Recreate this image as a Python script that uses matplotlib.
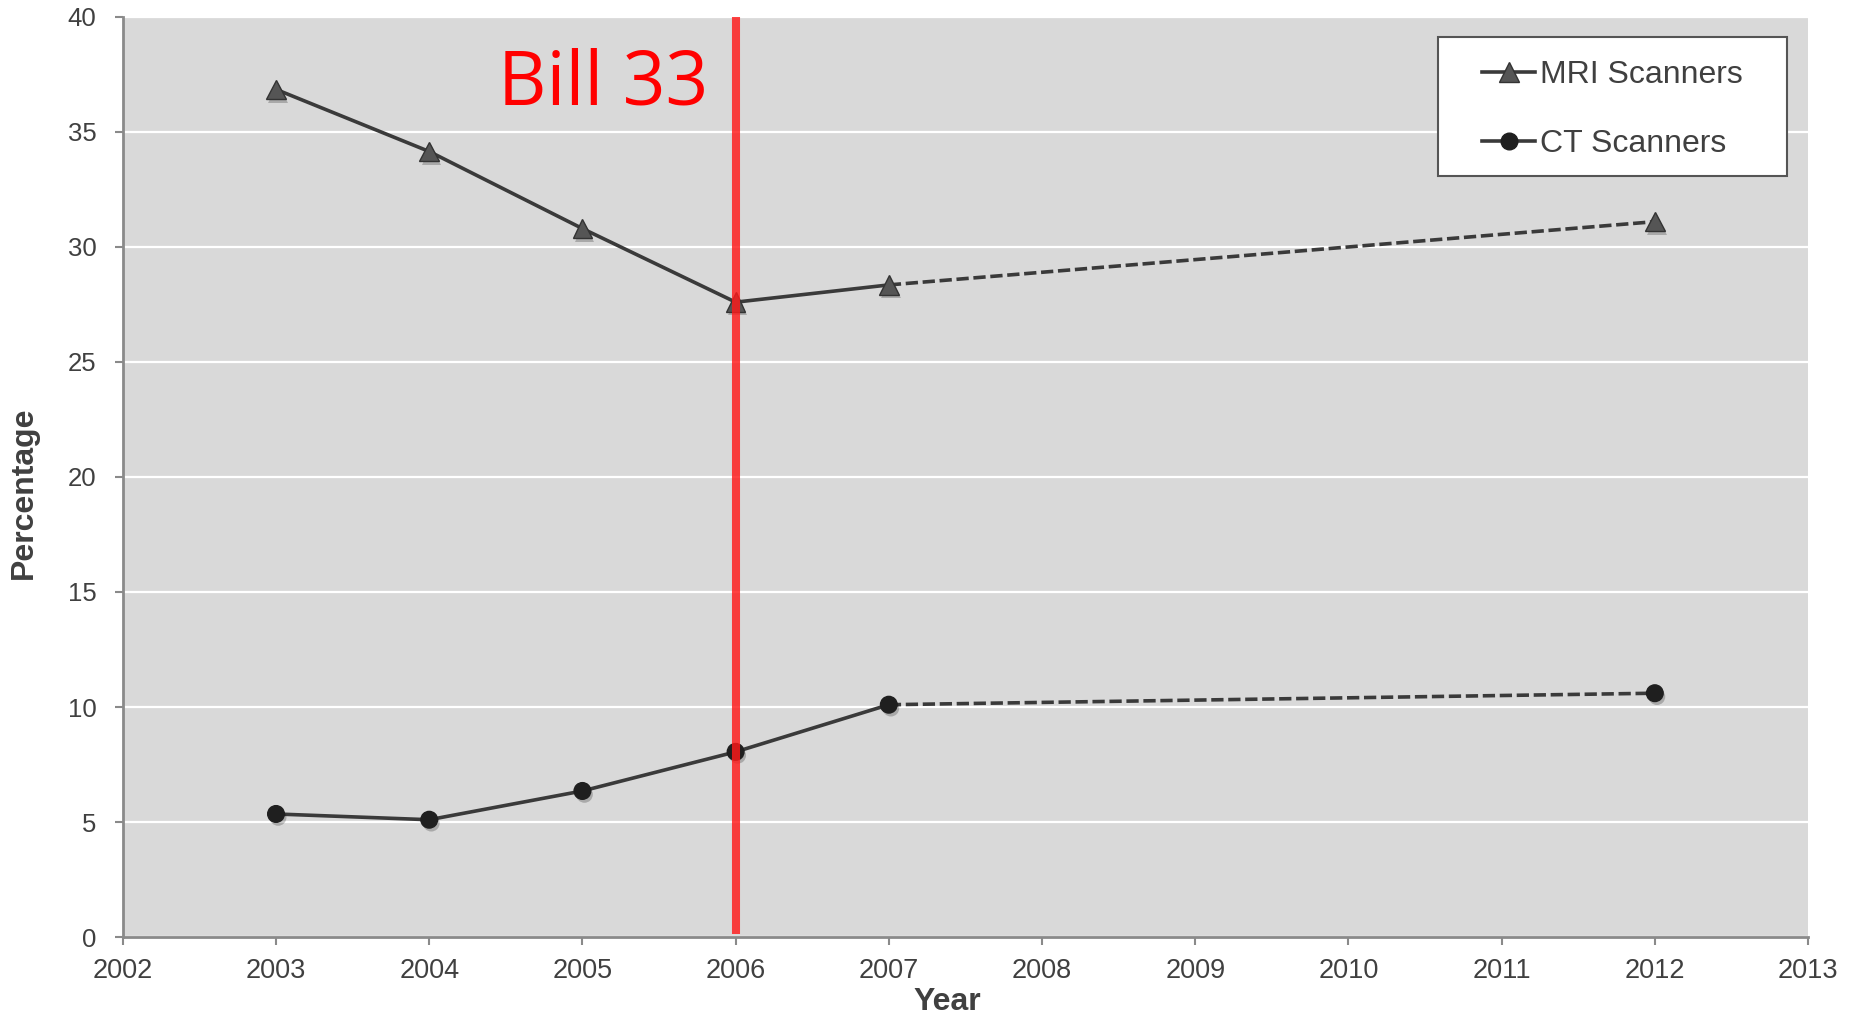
import matplotlib
matplotlib.use("Agg")
import matplotlib.pyplot as plt
import matplotlib.patheffects as pe
from matplotlib.patches import Rectangle
from matplotlib.lines import Line2D

# Share of scanner exams, by year
years = [2003, 2004, 2005, 2006, 2007, 2012]
mri_pct = [36.85, 34.15, 30.8, 27.6, 28.35, 31.1]
ct_pct = [5.35, 5.1, 6.35, 8.05, 10.1, 10.6]
n_observed = 5  # 2003-2007 observed, 2007->2012 drawn dashed

x_ticks = list(range(2002, 2014))
y_ticks = list(range(0, 45, 5))
bill_year = 2006
bill_label = "Bill 33"
series_labels = ["MRI Scanners", "CT Scanners"]

plt.rcParams["font.family"] = ["Liberation Sans", "DejaVu Sans"]

TEXT = "#404040"
LINE = "#3a3a3a"
SPINE = "#8a8a8a"

fig = plt.figure(figsize=(18.58, 10.14), dpi=100)
ax = fig.add_axes([0.0661, 0.0759, 0.9070, 0.9074])
ax.set_facecolor("#d9d9d9")

ax.set_xlim(2002, 2013)
ax.set_ylim(0, 40)
ax.set_xticks(x_ticks)
ax.set_yticks(y_ticks)
ax.yaxis.grid(True, color="white", linewidth=1.6)
ax.set_axisbelow(True)

for side in ("top", "right"):
    ax.spines[side].set_visible(False)
for side in ("left", "bottom"):
    ax.spines[side].set_color(SPINE)
    ax.spines[side].set_linewidth(2.0)

ax.tick_params(axis="both", colors=SPINE, width=1.5, length=6, direction="out",
               labelcolor=TEXT)
ax.tick_params(axis="y", pad=13, labelsize=18.5)
ax.tick_params(axis="x", pad=9, labelsize=19.5)

shadow = [pe.SimplePatchShadow(offset=(1.5, -2.5), shadow_rgbFace="#000000", alpha=0.22),
          pe.Normal()]

lw = 2.6
# solid observed segments
ax.plot(years[:n_observed], mri_pct[:n_observed], color=LINE, lw=lw, zorder=3,
        solid_capstyle="round")
ax.plot(years[:n_observed], ct_pct[:n_observed], color=LINE, lw=lw, zorder=3,
        solid_capstyle="round")
# dashed jump to 2012
ax.plot(years[n_observed - 1:], mri_pct[n_observed - 1:], color=LINE, lw=lw,
        dashes=(3.4, 1.3), zorder=3)
ax.plot(years[n_observed - 1:], ct_pct[n_observed - 1:], color=LINE, lw=lw,
        dashes=(3.4, 1.3), zorder=3)

# markers with soft drop shadow
ax.plot(years, mri_pct, linestyle="none", marker="^", markersize=14,
        markerfacecolor="#555555", markeredgecolor="#333333", markeredgewidth=1.0,
        zorder=4, path_effects=shadow)
ax.plot(years, ct_pct, linestyle="none", marker="o", markersize=12,
        markerfacecolor="#1f1f1f", markeredgecolor="#1f1f1f", markeredgewidth=1.0,
        zorder=4, path_effects=shadow)

# policy marker
ax.vlines(bill_year, 0.12, 40, color="#ff1a1a", alpha=0.82, linewidth=5.8, zorder=5)
ax.text(2005.82, 36.2, bill_label, color="#ff0000", fontsize=54,
        family=["Open Sans", "DejaVu Sans"], ha="right", va="baseline", zorder=6)

# axis labels
ax.set_xlabel("Year", fontsize=23, fontweight="bold", color=TEXT, va="center")
ax.xaxis.set_label_coords(0.489, -0.0705)
ax.set_ylabel("Percentage", fontsize=23, fontweight="bold", color=TEXT, va="center")
ax.yaxis.set_label_coords(-0.0585, 0.483)

# legend inside a fixed white box
box_x0, box_x1 = 0.7805, 0.9875
box_y0, box_y1 = 0.827, 0.978
ax.add_patch(Rectangle((box_x0, box_y0), box_x1 - box_x0, box_y1 - box_y0,
                       transform=ax.transAxes, facecolor="white",
                       edgecolor="#555555", linewidth=1.5, zorder=7))
handles = [
    Line2D([], [], color=LINE, lw=lw, marker="^", markersize=14,
           markerfacecolor="#555555", markeredgecolor="#333333"),
    Line2D([], [], color=LINE, lw=lw, marker="o", markersize=12,
           markerfacecolor="#1f1f1f", markeredgecolor="#1f1f1f"),
]
leg = ax.legend(handles, series_labels, loc="center",
                bbox_to_anchor=((box_x0 + box_x1) / 2, (box_y0 + box_y1) / 2 - 0.003),
                frameon=False, fontsize=23, handlelength=1.65, handletextpad=0.15,
                labelspacing=1.22, borderpad=0.0, labelcolor=TEXT)
leg.set_zorder(8)

fig.savefig("out.png", dpi=100)
